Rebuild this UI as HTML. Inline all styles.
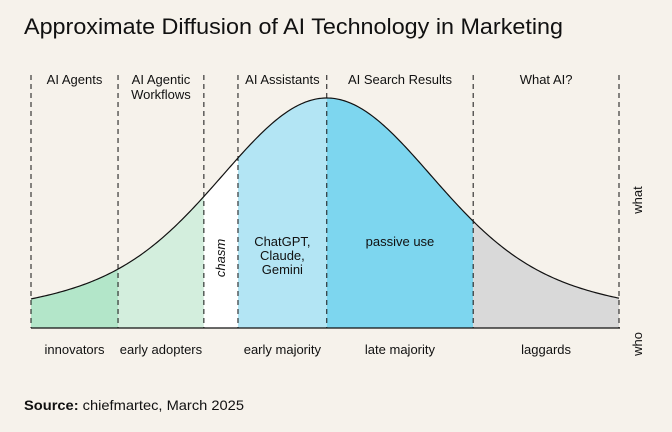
<!DOCTYPE html>
<html><head><meta charset="utf-8"><style>
html,body{margin:0;padding:0;background:#f6f2eb;}
svg{display:block;font-family:"Liberation Sans",sans-serif;}
</style></head><body>
<svg width="672" height="432" viewBox="0 0 672 432">
<rect width="672" height="432" fill="#f6f2eb"/>
<text x="24" y="34" font-size="22" textLength="539" lengthAdjust="spacingAndGlyphs" fill="#111">Approximate Diffusion of AI Technology in Marketing</text>
<g id="plot"></g>
<text transform="translate(642,200) rotate(-90)" text-anchor="middle" font-size="13" fill="#111">what</text>
<text transform="translate(642,344) rotate(-90)" text-anchor="middle" font-size="13" fill="#111">who</text>
<text x="24" y="410" font-size="14" textLength="220" lengthAdjust="spacingAndGlyphs" fill="#111"><tspan font-weight="bold">Source:</tspan> chiefmartec, March 2025</text>
</svg>
<script>
const boundaries=[0,14.8,29.4,35.2,50.3,75.2,100];
const segColors=["#b3e6c9","#d3eedd","#ffffff","#b3e5f4","#7dd6ef","#d9d9d9"];
const whatLabels=[["AI Agents"],["AI Agentic","Workflows"],[],["AI Assistants"],["AI Search Results"],["What AI?"]];
const whoLabels=["innovators","early adopters","","early majority","late majority","laggards"];
const innerLabels=[[],[],[],["ChatGPT,","Claude,","Gemini"],["passive use"],[]];
const peak=50.3;
const NS="http://www.w3.org/2000/svg";
const g=document.getElementById('plot');
const x0=31,x1=619,yb=328,H=230;
const sx=v=>x0+(v-boundaries[0])/(boundaries[boundaries.length-1]-boundaries[0])*(x1-x0);
function curve(v){const d=sx(v)-sx(peak);return 0.75*Math.exp(-d*d/(2*100*100))+0.25*Math.exp(-d*d/(2*240*240));}
const sy=f=>yb-f*H;
function mk(t,a){const e=document.createElementNS(NS,t);for(const k in a)e.setAttribute(k,a[k]);g.appendChild(e);return e;}
for(let i=0;i<segColors.length;i++){
  const a=boundaries[i],b=boundaries[i+1];let p=`M${sx(a)},${yb}`;
  for(let k=0;k<=40;k++){const v=a+(b-a)*k/40;p+=` L${sx(v).toFixed(2)},${sy(curve(v)).toFixed(2)}`;}
  p+=` L${sx(b)},${yb} Z`;
  const e=mk('path',{d:p,fill:segColors[i]});
  
  
}
let cp='';
for(let k=0;k<=300;k++){const v=boundaries[0]+(boundaries[6]-boundaries[0])*k/300;cp+=(k?' L':'M')+sx(v).toFixed(2)+','+sy(curve(v)).toFixed(2);}
const c=mk('path',{d:cp,fill:'none',stroke:'#111','stroke-width':1.2});


boundaries.forEach((v,i)=>{
  const l=mk('line',{x1:sx(v),x2:sx(v),y1:75,y2:yb,stroke:'#111','stroke-width':1,'stroke-dasharray':'5,4'});
  
  
});
const bl=mk('line',{x1:x0,x2:x1+1,y1:yb,y2:yb,stroke:'#111','stroke-width':1.3});


for(let i=0;i<6;i++){
  const cx=(sx(boundaries[i])+sx(boundaries[i+1]))/2;
  whatLabels[i].forEach((s,j)=>{const t=mk('text',{x:cx,y:84+j*15,'text-anchor':'middle','font-size':13,fill:'#111'});t.textContent=s;
    
    });
  if(whoLabels[i]){const t=mk('text',{x:cx,y:354,'text-anchor':'middle','font-size':13,fill:'#111'});t.textContent=whoLabels[i];
    
    }
  innerLabels[i].forEach((s,j)=>{const t=mk('text',{x:cx,y:246+j*14,'text-anchor':'middle','font-size':13,fill:'#111'});t.textContent=s;
    
    });
}
const chx=(sx(boundaries[2])+sx(boundaries[3]))/2;
const ch=mk('text',{transform:`translate(${chx+4},258) rotate(-90)`,'text-anchor':'middle','font-size':13,'font-style':'italic',fill:'#111'});
ch.textContent='chasm';


</script>
</body></html>
